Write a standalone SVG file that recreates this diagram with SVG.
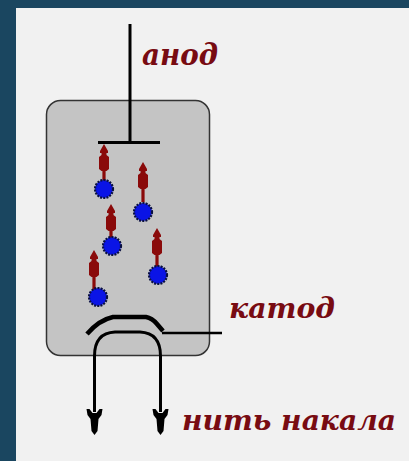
<svg xmlns="http://www.w3.org/2000/svg" width="409" height="461" viewBox="0 0 409 461">
  <style>
    .wire { fill: none; stroke: #000; stroke-width: 3; }
    .thick { fill: none; stroke: #000; stroke-width: 4.5; stroke-linejoin: round; }
    .electron { fill: #0a14e6; stroke: #0a1040; stroke-width: 2.2; stroke-dasharray: 2 1.2; }
    .flow { fill: #8a0a0a; }
    .label { font-family: "DejaVu Serif", "Liberation Serif", serif; font-style: italic; font-weight: bold; fill: #780b12; }
  </style>
  <defs>
    <!-- upward electron-motion arrow, tip at origin -->
    <path id="up" class="flow" d="M0 0 L4 7 L4 9 L2.5 9 L2.5 11 L5 13 L5 25 L2.5 27 L1.6 27 L1.6 40 L-1.6 40 L-1.6 27 L-2.5 27 L-5 25 L-5 13 L-2.5 11 L-2.5 9 L-4 9 L-4 7 Z"/>
    <!-- downward terminal arrowhead, tip at origin -->
    <path id="down" fill="#000" d="M0 0 L-3 -4 L-4 -16 L-7 -20 L-8 -26 L-5 -26 L-2 -22 L2 -22 L5 -26 L8 -26 L7 -20 L4 -16 L3 -4 Z"/>
  </defs>

  <!-- backdrop -->
  <rect x="0" y="0" width="409" height="461" fill="#1a4660"/>
  <rect x="16" y="8" width="393" height="453" fill="#f1f1f1"/>

  <!-- tube envelope -->
  <g id="tube">
    <rect x="46.5" y="100.5" width="163" height="255" rx="14" ry="14" fill="#c4c4c4" stroke="#333" stroke-width="1.5"/>
  </g>

  <g id="connectors">
    <!-- anode lead -->
    <line class="wire" x1="130" y1="24" x2="130" y2="142"/>
    <!-- filament loop and leads -->
    <path class="wire" d="M94.5 412 L94.5 356 Q94.5 333 115 332 L140 332 Q160.5 333 160.5 356 L160.5 412"/>
    <use href="#down" x="94.5" y="435"/>
    <use href="#down" x="160.5" y="435"/>
    <!-- cathode lead -->
    <line x1="162" y1="333" x2="222" y2="333" stroke="#000" stroke-width="2.5"/>
  </g>

  <g id="anode">
    <line class="wire" x1="98" y1="142.5" x2="160" y2="142.5"/>
  </g>

  <g id="cathode">
    <path class="thick" d="M87 334 Q99 320 113 317 L146 317 Q152 318 157 324 L163 331"/>
  </g>

  <g id="electrons">
    <use href="#up" x="104" y="144"/>
    <use href="#up" x="143" y="162"/>
    <use href="#up" x="111" y="204"/>
    <use href="#up" x="157" y="228"/>
    <use href="#up" x="94" y="250"/>
    <circle class="electron" cx="104" cy="189" r="9"/>
    <circle class="electron" cx="143" cy="212" r="9"/>
    <circle class="electron" cx="112" cy="246" r="9"/>
    <circle class="electron" cx="158" cy="275" r="9"/>
    <circle class="electron" cx="98" cy="297" r="9"/>
  </g>

  <g id="labels">
    <text class="label" x="142" y="65" font-size="29" textLength="76" lengthAdjust="spacingAndGlyphs">анод</text>
    <text class="label" x="229" y="318" font-size="27" textLength="106" lengthAdjust="spacingAndGlyphs">катод</text>
    <text class="label" x="182" y="430" font-size="28" textLength="214" lengthAdjust="spacingAndGlyphs">нить накала</text>
  </g>
</svg>
